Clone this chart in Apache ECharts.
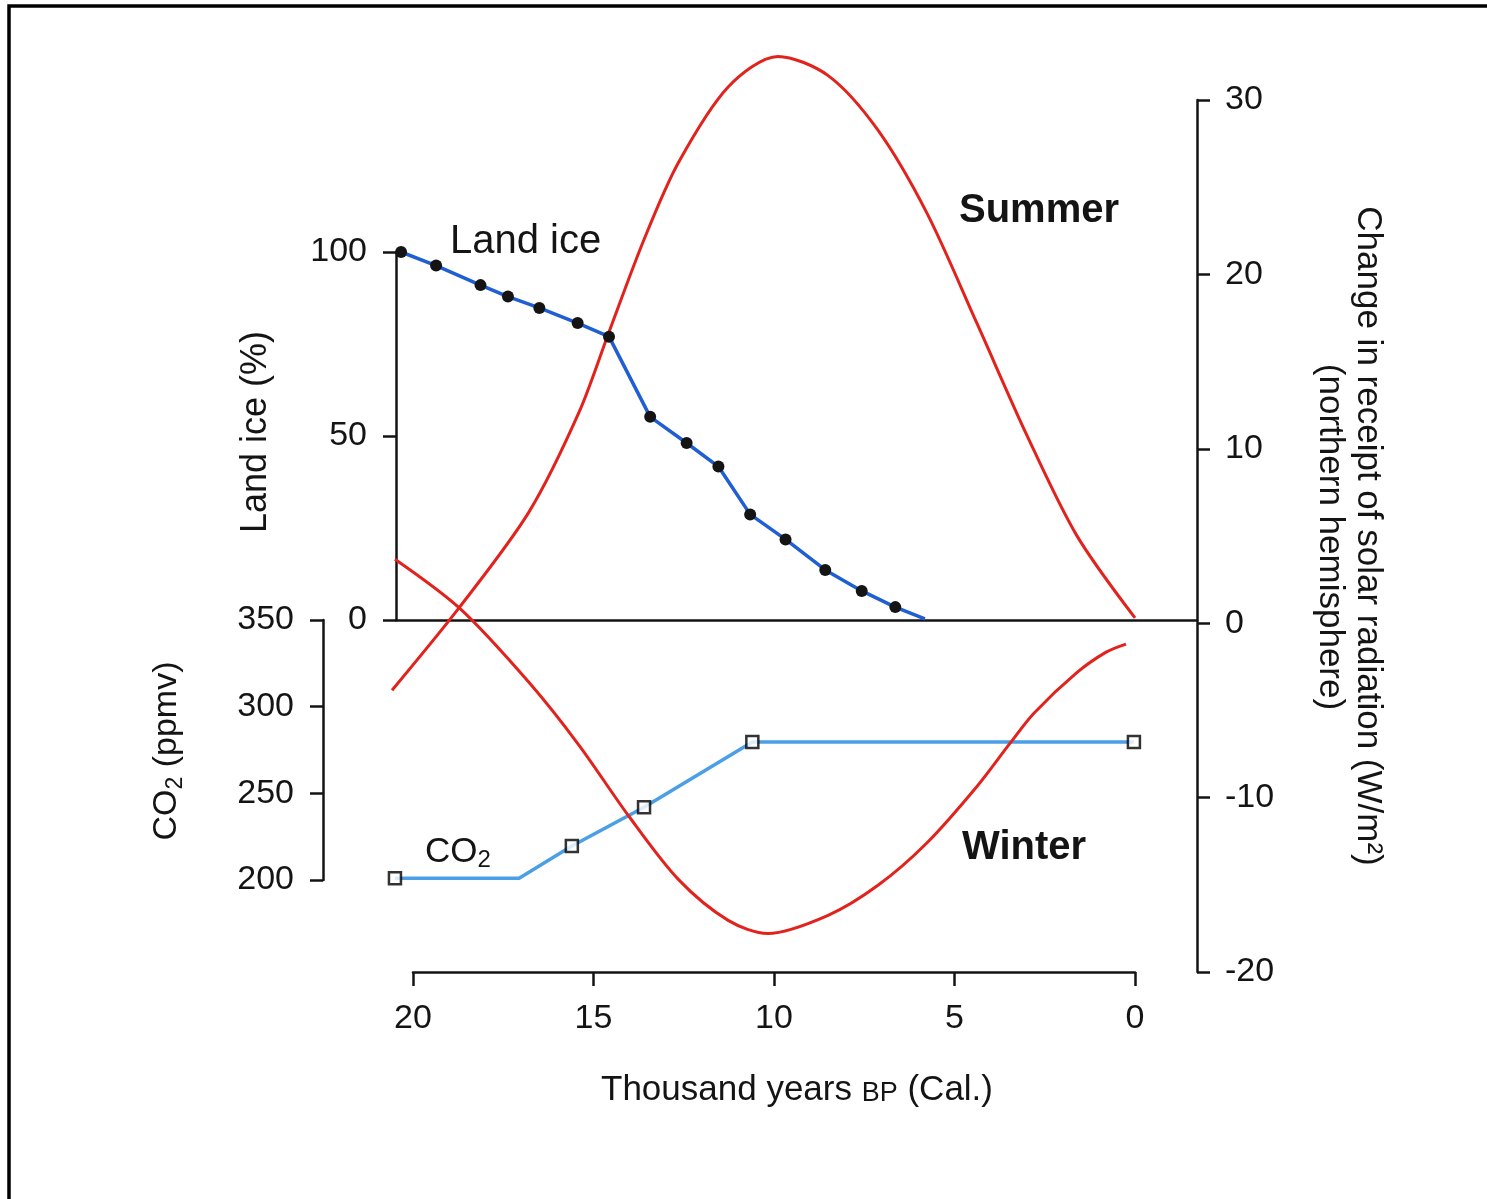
<!DOCTYPE html>
<html>
<head>
<meta charset="utf-8">
<title>Land ice, CO2 and solar radiation since 20 ka</title>
<script src="https://cdn.jsdelivr.net/npm/echarts@6/dist/echarts.min.js"></script>
<style>
html, body { margin: 0; padding: 0; background: #fff; }
#main { width: 1487px; height: 1199px; }
</style>
</head>
<body>
<div id="main"></div>
<script>
// ages in thousand years BP
var summerYears = [20.58, 18.71, 16.79, 15.40, 14.57, 13.60, 12.65, 11.27, 9.89, 8.50, 7.13, 5.76, 4.38, 3.00, 1.62, 0.00];
var summerW     = [-3.84, 0.92, 6.37, 12.1, 16.7, 22.0, 26.4, 30.75, 32.5, 31.4, 28.3, 23.5, 17.2, 10.8, 5.05, 0.3];

var winterYears = [20.50, 18.71, 16.79, 15.40, 14.02, 12.65, 11.27, 10.17, 8.50, 7.12, 5.76, 4.35, 3.46, 2.80, 1.62, 0.80, 0.25];
var winterW     = [3.67, 0.86, -3.39, -7.0, -11.07, -14.69, -17.04, -17.79, -16.75, -15.03, -12.59, -9.29, -6.88, -5.16, -2.85, -1.66, -1.2];

var iceYears = [20.33, 19.36, 18.13, 17.37, 16.50, 15.44, 14.57, 13.43, 12.42, 11.54, 10.66, 9.68, 8.58, 7.57, 6.64, 5.82];
var icePct   = [100, 96.3, 91.0, 87.9, 84.8, 80.7, 77.0, 55.2, 48.1, 41.7, 28.7, 21.9, 13.6, 7.9, 3.5, 0.3];

var co2Years = [20.5, 17.06, 15.6, 13.6, 10.6, 0.03];
var co2Ppm   = [201, 201, 219.6, 242, 279.6, 279.6];
var co2SampleYears = [20.5, 15.6, 13.6, 10.6, 0.03];
var co2SamplePpm   = [201, 219.6, 242, 279.6, 279.6];

var ageTicks = [0, 5, 10, 15, 20];

var FONT = '"Liberation Sans", Arial, Helvetica, sans-serif';
var INK = '#141414';
var RED = '#e2221c';

function pairs(xs, ys) {
    return xs.map(function (x, i) { return [x, ys[i]]; });
}

var lineAxis = { show: true, onZero: false, lineStyle: { color: INK, width: 2.5 } };
var tickAxis = { show: true, length: 13, lineStyle: { color: INK, width: 2.5 } };

function valueAxis(grid, pos, offset, min, max, step, margin) {
    return {
        gridIndex: grid, type: 'value', position: pos, offset: offset,
        min: min, max: max, interval: step,
        axisLine: lineAxis, axisTick: tickAxis,
        axisLabel: { margin: margin, fontSize: 34, color: INK, fontFamily: FONT },
        splitLine: { show: false }
    };
}

// hidden twin axes: the data reaches a little past 20 ka, so the plotting
// grids run to 21 ka while the drawn age axis stops at 20
function hiddenX(grid, max) {
    return { gridIndex: grid, type: 'value', min: 0, max: max, inverse: true, show: false };
}
function hiddenY(grid, min, max) {
    return { gridIndex: grid, type: 'value', min: min, max: max, show: false };
}

var iceData = pairs(iceYears, icePct).map(function (p, i) {
    return i === iceYears.length - 1 ? { value: p, symbol: 'none' } : p;
});

var pxPerKa = 722 / 20;
var dataLeft = 1135 - 21 * pxPerKa;

var option = {
    backgroundColor: '#fff',
    animation: false,
    grid: [
        { left: 413, width: 722, top: 100, height: 872 },          // age axis + radiation axis
        { left: 413, width: 722, top: 252, height: 368 },          // land ice axis
        { left: 413, width: 722, top: 620, height: 260 },          // CO2 axis
        { left: 396, width: 801, top: 252, height: 368 },          // zero base line
        { left: dataLeft, width: 21 * pxPerKa, top: 100, height: 872 },
        { left: dataLeft, width: 21 * pxPerKa, top: 252, height: 368 },
        { left: dataLeft, width: 21 * pxPerKa, top: 620, height: 260 }
    ],
    xAxis: [
        {
            gridIndex: 0, type: 'value', min: 0, max: 20, inverse: true, position: 'bottom',
            axisLine: lineAxis,
            axisTick: { show: true, length: 14, customValues: ageTicks, lineStyle: { color: INK, width: 2.5 } },
            axisLabel: { margin: 30, fontSize: 34, color: INK, fontFamily: FONT, customValues: ageTicks },
            splitLine: { show: false }
        },
        { gridIndex: 1, type: 'value', min: 0, max: 20, inverse: true, show: false },
        { gridIndex: 2, type: 'value', min: 0, max: 20, inverse: true, show: false },
        {
            gridIndex: 3, type: 'value', min: 0, max: 1, position: 'bottom',
            axisLine: lineAxis, axisTick: { show: false }, axisLabel: { show: false }, splitLine: { show: false }
        },
        hiddenX(4, 21), hiddenX(5, 21), hiddenX(6, 21)
    ],
    yAxis: [
        valueAxis(0, 'right', 62, -20, 30, 10, 28),
        valueAxis(1, 'left', 17, 0, 100, 50, 29),
        valueAxis(2, 'left', 90, 200, 350, 50, 29),
        { gridIndex: 3, type: 'value', min: 0, max: 1, show: false },
        hiddenY(4, -20, 30), hiddenY(5, 0, 100), hiddenY(6, 200, 350)
    ],
    series: [
        {
            name: 'CO2', type: 'line', xAxisIndex: 6, yAxisIndex: 6, z: 1,
            data: pairs(co2Years, co2Ppm), symbol: 'none', clip: false,
            lineStyle: { color: '#4a9fe6', width: 3.5 }
        },
        {
            name: 'CO2 samples', type: 'scatter', xAxisIndex: 6, yAxisIndex: 6, z: 4,
            data: pairs(co2SampleYears, co2SamplePpm), symbol: 'rect', symbolSize: 12, clip: false,
            itemStyle: { color: '#fff', borderColor: '#000', borderWidth: 2.5 }
        },
        {
            name: 'Summer', type: 'line', xAxisIndex: 4, yAxisIndex: 4, z: 2,
            data: pairs(summerYears, summerW), smooth: 0.3, symbol: 'none', clip: false,
            lineStyle: { color: RED, width: 3 }
        },
        {
            name: 'Winter', type: 'line', xAxisIndex: 4, yAxisIndex: 4, z: 2,
            data: pairs(winterYears, winterW), smooth: 0.3, symbol: 'none', clip: false,
            lineStyle: { color: RED, width: 3 }
        },
        {
            name: 'Land ice', type: 'line', xAxisIndex: 5, yAxisIndex: 5, z: 3,
            data: iceData, symbol: 'circle', symbolSize: 12, showAllSymbol: true, clip: false,
            itemStyle: { color: INK },
            lineStyle: { color: '#1f5fd3', width: 3.5 }
        }
    ],
    graphic: [
        // scan frame (left and top edges visible)
        { type: 'rect', shape: { x: 9, y: 6, width: 1600, height: 1400 },
          style: { fill: 'none', stroke: '#000', lineWidth: 3.5 } },
        { type: 'text', x: 450, y: 242,
          style: { text: 'Land ice', fontSize: 40, fontFamily: FONT, fill: INK, verticalAlign: 'middle' } },
        { type: 'text', x: 959, y: 211,
          style: { text: 'Summer', fontSize: 40, fontWeight: 'bold', fontFamily: FONT, fill: INK, verticalAlign: 'middle' } },
        { type: 'text', x: 962, y: 848,
          style: { text: 'Winter', fontSize: 40, fontWeight: 'bold', fontFamily: FONT, fill: INK, verticalAlign: 'middle' } },
        { type: 'text', x: 425, y: 852,
          style: { text: '{a|CO}{s|2}', fontFamily: FONT, fill: INK, verticalAlign: 'middle',
                   rich: { a: { fontSize: 35, lineHeight: 40, fontFamily: FONT, fill: INK },
                           s: { fontSize: 24, lineHeight: 18, verticalAlign: 'bottom', fontFamily: FONT, fill: INK } } } },
        { type: 'text', x: 256, y: 432, rotation: Math.PI / 2,
          style: { text: 'Land ice (%)', fontSize: 36, fontFamily: FONT, fill: INK, align: 'center', verticalAlign: 'middle' } },
        { type: 'text', x: 167, y: 751, rotation: Math.PI / 2,
          style: { text: '{a|CO}{s|2}{a| (ppmv)}', fontFamily: FONT, fill: INK, align: 'center', verticalAlign: 'middle',
                   rich: { a: { fontSize: 34, lineHeight: 40, fontFamily: FONT, fill: INK },
                           s: { fontSize: 23, lineHeight: 18, verticalAlign: 'bottom', fontFamily: FONT, fill: INK } } } },
        { type: 'text', x: 1368, y: 536, rotation: -Math.PI / 2,
          style: { text: 'Change in receipt of solar radiation (W/m\u00b2)', fontSize: 35, fontFamily: FONT, fill: INK,
                   align: 'center', verticalAlign: 'middle' } },
        { type: 'text', x: 1330, y: 537, rotation: -Math.PI / 2,
          style: { text: '(northern hemisphere)', fontSize: 35, fontFamily: FONT, fill: INK,
                   align: 'center', verticalAlign: 'middle' } },
        { type: 'text', x: 797, y: 1090,
          style: { text: '{a|Thousand years }{b|BP}{a| (Cal.)}', fontFamily: FONT, fill: INK, align: 'center', verticalAlign: 'middle',
                   rich: { a: { fontSize: 35, lineHeight: 40, fontFamily: FONT, fill: INK },
                           b: { fontSize: 27, lineHeight: 32, padding: [8, 0, 0, 0], fontFamily: FONT, fill: INK } } } }
    ]
};

var chart = echarts.init(document.getElementById('main'));
chart.setOption(option);
</script>
</body>
</html>
